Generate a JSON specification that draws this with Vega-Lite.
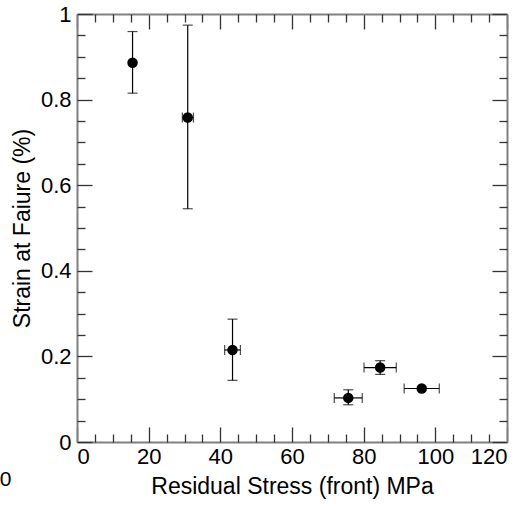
{
  "$schema": "https://vega.github.io/schema/vega-lite/v6.json",
  "width": 430,
  "height": 428,
  "autosize": {"type": "none"},
  "padding": {"left": 77, "top": 14, "right": 21, "bottom": 68},
  "background": "white",
  "config": {
    "view": {"stroke": null},
    "font": "Liberation Sans",
    "axis": {
      "labelFont": "Liberation Sans",
      "titleFont": "Liberation Sans",
      "labelFontSize": 22,
      "titleFontSize": 23,
      "titleFontWeight": "normal",
      "labelColor": "black",
      "titleColor": "black",
      "grid": false,
      "domainColor": "#808080",
      "domainWidth": 2,
      "tickColor": "#333333",
      "tickWidth": 1.3
    }
  },
  "data": {
    "values": [
      {"stress": 15.5, "strain": 0.886, "ylo": 0.815, "yhi": 0.959, "xlo": null, "xhi": null},
      {"stress": 30.9, "strain": 0.758, "ylo": 0.545, "yhi": 0.974, "xlo": 29.4, "xhi": 32.5},
      {"stress": 43.4, "strain": 0.215, "ylo": 0.144, "yhi": 0.287, "xlo": 41.2, "xhi": 45.6},
      {"stress": 75.7, "strain": 0.103, "ylo": 0.087, "yhi": 0.122, "xlo": 71.8, "xhi": 79.6},
      {"stress": 84.6, "strain": 0.174, "ylo": 0.158, "yhi": 0.19, "xlo": 80.1, "xhi": 89.1},
      {"stress": 96.2, "strain": 0.125, "ylo": null, "yhi": null, "xlo": 91.3, "xhi": 101.1}
    ]
  },
  "resolve": {"axis": {"x": "independent", "y": "independent"}},
  "layer": [
    {
      "mark": {"type": "rule", "color": "black", "strokeWidth": 1.2},
      "encoding": {
        "x": {"field": "stress", "type": "quantitative", "scale": {"domain": [0, 120], "nice": false},
          "axis": {"orient": "bottom", "values": [0, 20, 40, 60, 80, 100, 120], "format": "d", "ticks": false, "labelPadding": 4, "title": "Residual Stress (front) MPa", "titlePadding": 8}},
        "y": {"field": "ylo", "type": "quantitative", "scale": {"domain": [0, 1], "nice": false},
          "axis": {"orient": "left", "values": [0, 0.2, 0.4, 0.6, 0.8, 1], "format": "~g", "ticks": false, "labelPadding": 6, "title": "Strain at Faiure (%)", "titlePadding": 6}},
        "y2": {"field": "yhi"}
      }
    },
    {
      "mark": {"type": "tick", "orient": "horizontal", "size": 10, "thickness": 1.2, "color": "black"},
      "encoding": {
        "x": {"field": "stress", "type": "quantitative", "scale": {"domain": [0, 120], "nice": false},
          "axis": {"orient": "bottom", "values": [0, 20, 40, 60, 80, 100, 120], "labels": false, "domain": false, "tickSize": -15, "title": null}},
        "y": {"field": "ylo", "type": "quantitative", "scale": {"domain": [0, 1], "nice": false},
          "axis": {"orient": "left", "values": [0, 0.2, 0.4, 0.6, 0.8, 1], "labels": false, "domain": false, "tickSize": -15, "title": null}}
      }
    },
    {
      "mark": {"type": "tick", "orient": "horizontal", "size": 10, "thickness": 1.2, "color": "black"},
      "encoding": {
        "x": {"field": "stress", "type": "quantitative", "scale": {"domain": [0, 120], "nice": false},
          "axis": {"orient": "bottom", "values": [5, 10, 15, 25, 30, 35, 45, 50, 55, 65, 70, 75, 85, 90, 95, 105, 110, 115], "labels": false, "domain": false, "tickSize": -8, "title": null}},
        "y": {"field": "yhi", "type": "quantitative", "scale": {"domain": [0, 1], "nice": false},
          "axis": {"orient": "left", "values": [0.05, 0.1, 0.15, 0.25, 0.3, 0.35, 0.45, 0.5, 0.55, 0.65, 0.7, 0.75, 0.85, 0.9, 0.95], "labels": false, "domain": false, "tickSize": -8, "title": null}}
      }
    },
    {
      "mark": {"type": "rule", "color": "black", "strokeWidth": 1.2},
      "encoding": {
        "x": {"field": "xlo", "type": "quantitative", "scale": {"domain": [0, 120], "nice": false},
          "axis": {"orient": "top", "values": [0, 20, 40, 60, 80, 100, 120], "labels": false, "tickSize": -15, "title": null}},
        "x2": {"field": "xhi"},
        "y": {"field": "strain", "type": "quantitative", "scale": {"domain": [0, 1], "nice": false},
          "axis": {"orient": "right", "values": [0, 0.2, 0.4, 0.6, 0.8, 1], "labels": false, "tickSize": -15, "title": null}}
      }
    },
    {
      "mark": {"type": "tick", "orient": "vertical", "size": 10, "thickness": 1.2, "color": "black"},
      "encoding": {
        "x": {"field": "xlo", "type": "quantitative", "scale": {"domain": [0, 120], "nice": false},
          "axis": {"orient": "top", "values": [5, 10, 15, 25, 30, 35, 45, 50, 55, 65, 70, 75, 85, 90, 95, 105, 110, 115], "labels": false, "domain": false, "tickSize": -8, "title": null}},
        "y": {"field": "strain", "type": "quantitative", "scale": {"domain": [0, 1], "nice": false},
          "axis": {"orient": "right", "values": [0.05, 0.1, 0.15, 0.25, 0.3, 0.35, 0.45, 0.5, 0.55, 0.65, 0.7, 0.75, 0.85, 0.9, 0.95], "labels": false, "domain": false, "tickSize": -8, "title": null}}
      }
    },
    {
      "mark": {"type": "tick", "orient": "vertical", "size": 10, "thickness": 1.2, "color": "black"},
      "encoding": {
        "x": {"field": "xhi", "type": "quantitative", "scale": {"domain": [0, 120], "nice": false}, "axis": null},
        "y": {"field": "strain", "type": "quantitative", "scale": {"domain": [0, 1], "nice": false}, "axis": null}
      }
    },
    {
      "mark": {"type": "circle", "size": 110, "opacity": 1, "color": "black"},
      "encoding": {
        "x": {"field": "stress", "type": "quantitative", "scale": {"domain": [0, 120], "nice": false}, "axis": null},
        "y": {"field": "strain", "type": "quantitative", "scale": {"domain": [0, 1], "nice": false}, "axis": null}
      }
    },
    {
      "data": {"values": [{"lx": -19.9, "ly": -0.088, "label": "0"}]},
      "mark": {"type": "text", "font": "Liberation Sans", "fontSize": 21, "color": "black", "baseline": "middle", "align": "center"},
      "encoding": {
        "x": {"field": "lx", "type": "quantitative", "scale": {"domain": [0, 120], "nice": false}, "axis": null},
        "y": {"field": "ly", "type": "quantitative", "scale": {"domain": [0, 1], "nice": false}, "axis": null},
        "text": {"field": "label"}
      }
    }
  ]
}
